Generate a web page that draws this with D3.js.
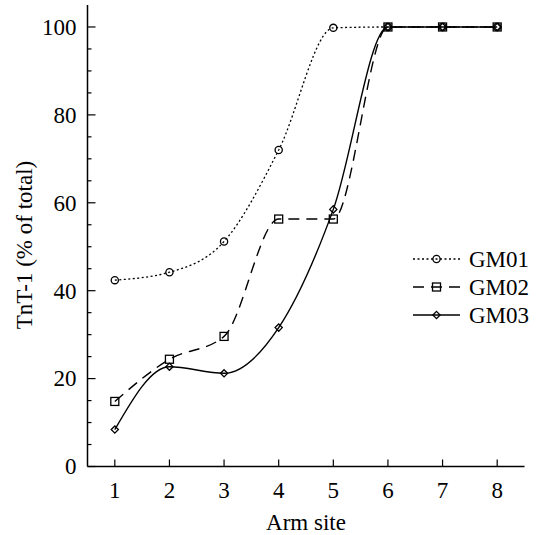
<!DOCTYPE html>
<html><head><meta charset="utf-8">
<script src="https://cdn.jsdelivr.net/npm/d3@7"></script>
<style>body{margin:0;background:#fff}svg{display:block}</style>
</head><body><svg id="c" width="537" height="535" font-family="'Liberation Serif', 'DejaVu Serif', serif"></svg>
<script>
const armSites = [1, 2, 3, 4, 5, 6, 7, 8];
const gm01 = [42.4, 44.2, 51.2, 72.0, 99.8, 100, 100, 100];
const gm02 = [14.8, 24.4, 29.6, 56.3, 56.3, 100, 100, 100];
const gm03 = [8.4, 22.7, 21.2, 31.6, 58.5, 100, 100, 100];
const seriesNames = ["GM01", "GM02", "GM03"];
const yTicks = [0, 20, 40, 60, 80, 100];
const yMinor = d3.range(0, 101, 5);
const xLabel = "Arm site";
const yLabel = "TnT-1 (% of total)";

const svg = d3.select("#c");
const x = d3.scaleLinear().domain([0.5, 8.5]).range([87.5, 524.5]);
const y = d3.scaleLinear().domain([0, 105]).range([466.5, 5]);

const series = [
  {name: seriesNames[0], vals: gm01, dash: "2,2.5", marker: "circle"},
  {name: seriesNames[1], vals: gm02, dash: "11,7", marker: "square"},
  {name: seriesNames[2], vals: gm03, dash: null, marker: "diamond"}
];

// axes
const gy = svg.append("g").attr("transform", `translate(${x.range()[0]},0)`);
gy.append("line").attr("x1",0).attr("x2",0).attr("y1",y.range()[1]).attr("y2",y.range()[0]).attr("stroke","#000").attr("stroke-width",1.5);
gy.selectAll("line.mn").data(yMinor).join("line").attr("class","mn")
  .attr("x1",0).attr("x2", d => yTicks.includes(d) ? 8 : 4)
  .attr("y1", d => y(d)).attr("y2", d => y(d)).attr("stroke","#000").attr("stroke-width",1.2);
gy.selectAll("text").data(yTicks).join("text")
  .attr("x",-11).attr("y", d => y(d)).attr("dy","0.34em").attr("text-anchor","end")
  .attr("font-size",23).attr("fill","#000").text(d => d);

const gx = svg.append("g").attr("transform", `translate(0,${y(0)})`);
gx.append("line").attr("x1",x.range()[0]).attr("x2",x.range()[1]).attr("y1",0).attr("y2",0).attr("stroke","#000").attr("stroke-width",1.5);
gx.selectAll("line.t").data(armSites).join("line").attr("class","t")
  .attr("x1", d => x(d)).attr("x2", d => x(d)).attr("y1",0).attr("y2",-7).attr("stroke","#000").attr("stroke-width",1.2);
gx.selectAll("text").data(armSites).join("text")
  .attr("x", d => x(d)).attr("y", 31).attr("text-anchor","middle")
  .attr("font-size",23).attr("fill","#000").text(d => d);

svg.append("text").attr("x", (x.range()[0]+x.range()[1])/2).attr("y", 530).attr("text-anchor","middle")
  .attr("font-size",23).attr("fill","#000").text(xLabel);
svg.append("text").attr("transform", `translate(32,245) rotate(-90)`).attr("text-anchor","middle")
  .attr("font-size",23).attr("fill","#000").text(yLabel);

function drawMarker(g, type, cx, cy) {
  if (type === "circle") g.append("circle").attr("cx",cx).attr("cy",cy).attr("r",3.6).attr("fill","none").attr("stroke","#000").attr("stroke-width",1.3);
  else if (type === "square") g.append("rect").attr("x",cx-4).attr("y",cy-4).attr("width",8).attr("height",8).attr("fill","none").attr("stroke","#000").attr("stroke-width",1.3);
  else g.append("path").attr("d",`M${cx},${cy-3.6}L${cx+3.6},${cy}L${cx},${cy+3.6}L${cx-3.6},${cy}Z`).attr("fill","none").attr("stroke","#000").attr("stroke-width",1.3);
}

const line = d3.line().x((d,i) => x(armSites[i])).y(d => y(d)).curve(d3.curveMonotoneX);
series.forEach(s => {
  svg.append("path").attr("d", line(s.vals)).attr("fill","none").attr("stroke","#000")
    .attr("stroke-width", s.marker === "circle" ? 1.3 : 1.4).attr("stroke-dasharray", s.dash);
});
series.forEach(s => {
  const g = svg.append("g");
  s.vals.forEach((v,i) => drawMarker(g, s.marker, x(armSites[i]), y(v)));
});

// legend
const leg = svg.append("g");
series.forEach((s,i) => {
  const ly = 259 + i*28;
  leg.append("line").attr("x1",413).attr("x2",460).attr("y1",ly).attr("y2",ly)
    .attr("stroke","#000").attr("stroke-width",1.4).attr("stroke-dasharray", s.dash);
  drawMarker(leg, s.marker, 436.5, ly);
  leg.append("text").attr("x",469).attr("y",ly).attr("dy","0.35em").attr("font-size",23).attr("fill","#000").text(s.name);
});
</script></body></html>
